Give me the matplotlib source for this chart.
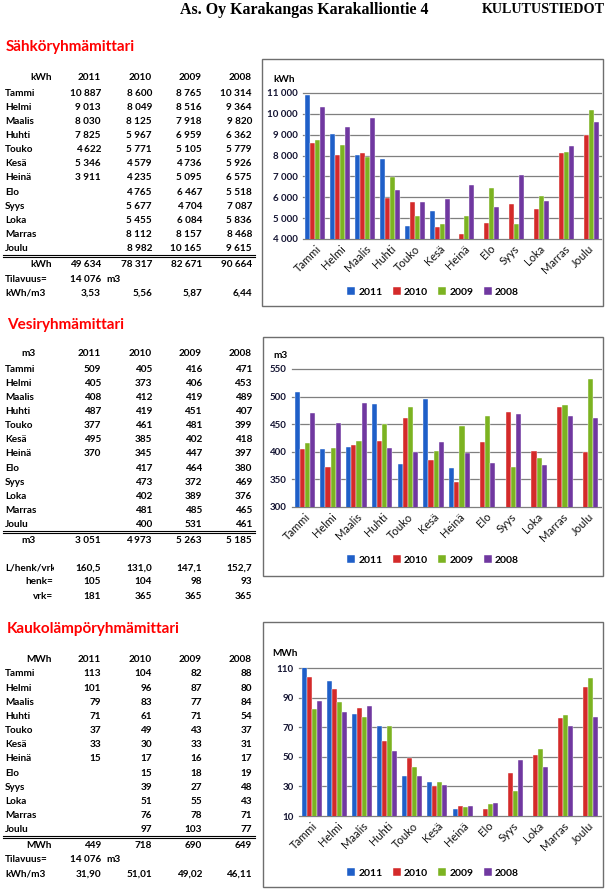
import numpy as np
import matplotlib.pyplot as plt
from matplotlib.lines import Line2D
from matplotlib.patches import Rectangle
from matplotlib.transforms import Bbox, TransformedBbox

nan = np.nan

# data
months = ['Tammi', 'Helmi', 'Maalis', 'Huhti', 'Touko', 'Kesä', 'Heinä',
          'Elo', 'Syys', 'Loka', 'Marras', 'Joulu']
years = ['2011', '2010', '2009', '2008']

elec_2011 = [10887, 9013, 8030, 7825, 4622, 5346, 3911, nan, nan, nan, nan, nan]
elec_2010 = [8600, 8049, 8125, 5967, 5771, 4579, 4235, 4765, 5677, 5455, 8112, 8982]
elec_2009 = [8765, 8516, 7918, 6959, 5105, 4736, 5095, 6467, 4704, 6084, 8157, 10165]
elec_2008 = [10314, 9364, 9820, 6362, 5779, 5926, 6575, 5518, 7087, 5836, 8468, 9615]

water_2011 = [509, 405, 408, 487, 377, 495, 370, nan, nan, nan, nan, nan]
water_2010 = [405, 373, 412, 419, 461, 385, 345, 417, 473, 402, 481, 400]
water_2009 = [416, 406, 419, 451, 481, 402, 447, 464, 372, 389, 485, 531]
water_2008 = [471, 453, 489, 407, 399, 418, 397, 380, 469, 376, 465, 461]

heat_2011 = [113, 101, 79, 71, 37, 33, 15, nan, nan, nan, nan, nan]
heat_2010 = [104, 96, 83, 61, 49, 30, 17, 15, 39, 51, 76, 97]
heat_2009 = [82, 87, 77, 71, 43, 33, 16, 18, 27, 55, 78, 103]
heat_2008 = [88, 80, 84, 54, 37, 31, 17, 19, 48, 43, 71, 77]

volume = 14076
persons = [105, 104, 98, 93]
days = [181, 365, 365, 365]

colors = ['#1F5FC8', '#D42A2A', '#7CB321', '#7038A0']

W, H = 607, 893
fig = plt.figure(figsize=(W / 100, H / 100), dpi=100)


def fx(x):
    return x / W


def fy(y):
    return 1 - y / H


def put(x, y, s, ha='right', size=7.2, color='black', family='Lato'):
    return fig.text(fx(x), fy(y), s, ha=ha, va='center_baseline', fontsize=size,
                    fontweight='bold', family=family, color=color)


def fmt_int(v):
    return f"{v:,.0f}".replace(",", " ")


def fmt_dec(v, n):
    return f"{v:.{n}f}".replace(".", ",")


cols_x = [101, 152, 202, 252]


def table(head_y, unit, unit_x, series):
    put(unit_x, head_y, unit)
    for cx, yr in zip(cols_x, years):
        put(cx, head_y, yr)
    row_y = [head_y + 15 + 14.15 * i for i in range(12)]
    for i, m in enumerate(months):
        put(5, row_y[i], m, ha='left')
        for cx, vals in zip(cols_x, series):
            if not np.isnan(vals[i]):
                put(cx, row_y[i], fmt_int(vals[i]))
    yj = row_y[-1]
    for dy in (7.5, 9.8):
        fig.add_artist(Line2D([fx(3), fx(255)], [fy(yj + dy), fy(yj + dy)],
                              color='black', lw=0.8))
    put(unit_x, yj + 15.5, unit)
    totals = [np.nansum(v) for v in series]
    for cx, t in zip(cols_x, totals):
        put(cx, yj + 15.5, fmt_int(t))
    return yj + 15, totals


# header
put(180, 8, 'As. Oy Karakangas Karakalliontie 4', ha='left', size=11.4,
    family='Liberation Serif')
put(605, 8, 'KULUTUSTIEDOT', ha='right', size=10.2, family='Liberation Serif')

# electricity table
put(6, 46, 'Sähköryhmämittari', ha='left', size=11, color='#FF0000')
ty, tot = table(77, 'kWh', 52, [elec_2011, elec_2010, elec_2009, elec_2008])
put(5, ty + 16, 'Tilavuus=', ha='left')
put(101, ty + 16, fmt_int(volume))
put(106, ty + 16, 'm3', ha='left')
put(5, ty + 29, 'kWh/m3', ha='left')
for cx, t in zip(cols_x, tot):
    put(cx, ty + 29, fmt_dec(t / volume, 2))

# water table
put(7, 323, 'Vesiryhmämittari', ha='left', size=11, color='#FF0000')
ty, tot = table(353, 'm3', 36, [water_2011, water_2010, water_2009, water_2008])
t = put(5, ty + 28, 'L/henk/vrk', ha='left')
t.set_clip_on(True)
t.set_clip_box(TransformedBbox(Bbox([[0, 0], [fx(54), 1]]), fig.transFigure))
put(53, ty + 42, 'henk=')
put(53, ty + 57, 'vrk=')
for cx, tt, p, d in zip(cols_x, tot, persons, days):
    put(cx, ty + 28, fmt_dec(tt * 1000 / (p * d), 1))
    put(cx, ty + 42, str(p))
    put(cx, ty + 57, str(d))

# district heating table
put(7, 627, 'Kaukolämpöryhmämittari', ha='left', size=11, color='#FF0000')
ty, tot = table(658, 'MWh', 52, [heat_2011, heat_2010, heat_2009, heat_2008])
put(5, ty + 15, 'Tilavuus=', ha='left')
put(101, ty + 15, fmt_int(volume))
put(106, ty + 15, 'm3', ha='left')
put(5, ty + 29, 'kWh/m3', ha='left')
for cx, t in zip(cols_x, tot):
    put(cx, ty + 29, fmt_dec(t * 1000 / volume, 2))


def chart(left, right, top, bottom, ymin, ymax, step, series, unit, unit_xy,
          frame, legend_y):
    ax = fig.add_axes([fx(left), fy(bottom), (right - left) / W, (bottom - top) / H])
    x = np.arange(len(months))
    bw = 0.2
    handles = []
    for k, (vals, c) in enumerate(zip(series, colors)):
        b = ax.bar(x + (k - 1.5) * bw, vals, bw, color=c, edgecolor='white',
                   linewidth=0.3, zorder=2)
        handles.append(b)
    ax.set_xlim(-0.5, len(months) - 0.5)
    ax.set_ylim(ymin, ymax)
    ticks = np.arange(ymin, ymax + step / 2, step)
    ax.set_yticks(ticks)
    ax.set_yticklabels([fmt_int(v) for v in ticks], fontsize=7,
                       fontweight='bold', family='Lato', color='#141432')
    ax.set_xticks(x)
    ax.set_xticklabels(months, rotation=45, ha='right', rotation_mode='anchor',
                       fontsize=8, family='Lato', color='#111111')
    ax.tick_params(length=0, pad=4)
    ax.tick_params(axis='x', pad=3)
    for s in ax.spines.values():
        s.set_visible(False)
    ax.yaxis.grid(True, color='#7f7f7f', lw=0.9, clip_on=False)
    ax.set_axisbelow(True)
    ax.patch.set_alpha(0)
    put(unit_xy[0], unit_xy[1], unit, ha='left')
    l, t_, r, b_ = frame
    fig.add_artist(Rectangle((fx(l), fy(b_)), (r - l) / W, (b_ - t_) / H,
                             fill=False, ec='#6e6e6e', lw=1.0,
                             transform=fig.transFigure))
    ax.legend(handles, years, loc='center', bbox_to_anchor=(fx(433), fy(legend_y)),
              bbox_transform=fig.transFigure, ncol=4, frameon=False,
              handlelength=0.75, handleheight=0.75, handletextpad=0.3,
              columnspacing=1.0, borderpad=0,
              prop=dict(family='Lato', weight='bold', size=7.5))
    return ax


chart(303, 601, 93, 239, 4000, 11000, 1000,
      [elec_2011, elec_2010, elec_2009, elec_2008], 'kWh', (273, 78),
      (262, 59, 603, 306), 292)
chart(292, 601, 369, 507, 300, 550, 50,
      [water_2011, water_2010, water_2009, water_2008], 'm3', (273, 355),
      (263, 337, 603, 576), 560)
chart(299, 601, 668, 816, 10, 110, 20,
      [heat_2011, heat_2010, heat_2009, heat_2008], 'MWh', (272, 653),
      (263, 622, 603, 887), 873)

fig.savefig('out.png', dpi=100)
